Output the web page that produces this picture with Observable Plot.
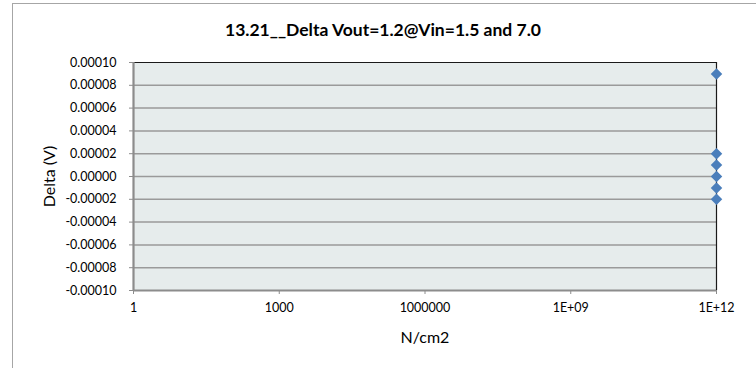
<!DOCTYPE html>
<html>
<head>
<meta charset="utf-8">
<script src="https://cdn.jsdelivr.net/npm/d3@7"></script>
<script src="https://cdn.jsdelivr.net/npm/@observablehq/plot@0.6"></script>
<style>
  html, body { margin: 0; padding: 0; background: #fff; overflow: hidden; }
  #wrap { position: relative; width: 756px; height: 368px; }
  #border { position: absolute; left: 12px; top: 3px; width: 800px; height: 400px;
            border-left: 1.5px solid #a6a6a6; border-top: 1.5px solid #a6a6a6; box-sizing: border-box; }
  #title { position: absolute; left: 0; top: 19px; width: 766px; text-align: center;
           font: bold 17.5px Lato, "Liberation Sans", sans-serif; color: #000; }
  #chart { position: absolute; left: 0; top: 0; }
</style>
</head>
<body>
<div id="wrap">
  <div id="border"></div>
  <div id="chart"></div>
  <div id="title">13.21__Delta Vout=1.2@Vin=1.5 and 7.0</div>
</div>
<script>
// Data
const xValues = [1e12, 1e12, 1e12, 1e12, 1e12, 1e12];
const yValues = [0.00009, 0.00002, 0.00001, 0.0, -0.00001, -0.00002];
const xTickValues = [1, 1e3, 1e6, 1e9, 1e12];
const xTickLabels = ["1", "1000", "1000000", "1E+09", "1E+12"];
const yTickValues = [-0.0001, -0.00008, -0.00006, -0.00004, -0.00002, 0, 0.00002, 0.00004, 0.00006, 0.00008, 0.0001];

const points = xValues.map((x, i) => ({x, y: yValues[i]}));
const gridInner = yTickValues.slice(1, -1);
const xLabelFor = d => {
  const k = xTickValues.findIndex(v => Math.abs(Math.log10(v) - Math.log10(d)) < 1e-9);
  return k >= 0 ? xTickLabels[k] : "";
};

const chart = Plot.plot({
  width: 756,
  height: 368,
  marginLeft: 133,
  marginRight: 40,
  marginTop: 62,
  marginBottom: 78,
  style: {fontFamily: "Lato, 'Liberation Sans', sans-serif", fontSize: "12.5px", color: "#000", background: "transparent"},
  x: {type: "log", domain: [1, 1e12], label: null},
  y: {domain: [-0.0001, 0.0001], label: null},
  marks: [
    Plot.frame({fill: "#e6ecec", stroke: null}),
    Plot.ruleY(gridInner, {stroke: "#9a9a9a", strokeWidth: 1.5}),
    Plot.ruleY([0.0001], {stroke: "#1a1a1a", strokeWidth: 1.2}),
    Plot.ruleX([1e12], {stroke: "#1a1a1a", strokeWidth: 1.2}),
    Plot.ruleY([-0.0001], {stroke: "#8c8c8c", strokeWidth: 2.2}),
    Plot.ruleX([1], {stroke: "#8c8c8c", strokeWidth: 2.2}),
    Plot.axisY({ticks: yTickValues, tickFormat: d => d.toFixed(5), tickSize: 4, tickPadding: 13,
                stroke: "#8c8c8c", label: "Delta (V)", labelAnchor: "center", labelArrow: "none",
                labelOffset: 90}),
    Plot.axisX({ticks: xTickValues, tickFormat: xLabelFor, tickSize: 4, tickPadding: 9,
                stroke: "#8c8c8c", label: "N/cm2", labelAnchor: "center", labelArrow: "none",
                labelOffset: 52}),
    Plot.dot(points, {x: "x", y: "y", symbol: "diamond2", r: 5.2, fill: "#4a7ebb", stroke: null})
  ]
});
chart.querySelectorAll("[aria-label='y-axis label'] text, [aria-label='x-axis label'] text").forEach(t => t.setAttribute("font-size", "16px"));
chart.querySelectorAll("[aria-label='y-axis label'], [aria-label='x-axis label']").forEach(g => g.setAttribute("font-size", "16px"));
document.getElementById("chart").appendChild(chart);
</script>
</body>
</html>
